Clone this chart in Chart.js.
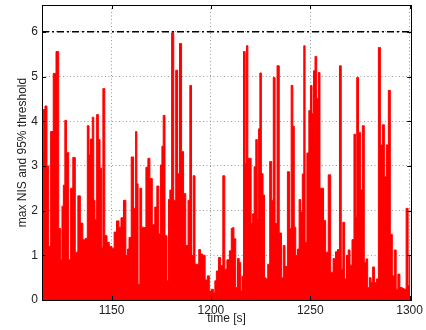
<!DOCTYPE html>
<html>
<head>
<meta charset="utf-8">
<script src="https://cdn.jsdelivr.net/npm/chart.js@4.4.1/dist/chart.umd.min.js"></script>
<style>
  html, body { margin: 0; padding: 0; background: #fff; }
  #wrap { width: 426px; height: 330px; }
</style>
</head>
<body>
<div id="wrap"><canvas id="nisChart" width="426" height="330"></canvas></div>
<script>
// time stamps [s] and max NIS
var times = [
  1115.2, 1116.0, 1117.0, 1118.0, 1118.7, 1120.0, 1121.3, 1122.8, 1124.0, 1124.8,
  1125.3, 1126.2, 1126.8, 1127.8, 1129.0, 1129.8, 1131.2, 1132.3, 1133.8, 1134.8,
  1136.3, 1137.3, 1138.3, 1139.0, 1139.8, 1140.8, 1141.3, 1142.0, 1143.0, 1143.7,
  1144.7, 1145.3, 1146.0, 1147.2, 1148.2, 1149.5, 1150.8, 1151.8, 1153.2, 1154.2,
  1155.3, 1156.7, 1157.7, 1158.3, 1159.3, 1160.5, 1161.7, 1162.5, 1163.0, 1163.7,
  1164.8, 1165.5, 1166.8, 1167.8, 1168.8, 1169.8, 1171.2, 1172.3, 1173.3, 1174.2,
  1175.0, 1175.7, 1176.3, 1177.5, 1178.3, 1179.0, 1179.7, 1180.8, 1181.8, 1182.8,
  1183.7, 1184.7, 1185.8, 1186.7, 1188.0, 1189.0, 1189.8, 1190.7, 1191.5, 1192.5,
  1193.5, 1194.3, 1195.2, 1196.5, 1197.7, 1198.7, 1199.7, 1200.8, 1201.7, 1202.3,
  1203.2, 1204.5, 1205.3, 1206.7, 1207.3, 1208.8, 1209.8, 1210.7, 1211.2, 1212.0,
  1213.0, 1213.8, 1214.7, 1215.3, 1216.0, 1216.8, 1217.7, 1218.2, 1219.0, 1219.8,
  1220.7, 1221.3, 1222.2, 1223.0, 1223.7, 1224.3, 1225.0, 1225.8, 1226.7, 1227.3,
  1228.2, 1229.0, 1230.2, 1231.0, 1231.8, 1232.8, 1233.8, 1235.0, 1236.0, 1236.8,
  1237.8, 1239.2, 1240.0, 1240.8, 1241.7, 1242.2, 1243.2, 1244.0, 1244.8, 1245.5,
  1246.5, 1247.0, 1247.8, 1248.8, 1249.8, 1250.5, 1251.3, 1252.0, 1252.8, 1253.7,
  1254.5, 1255.3, 1256.2, 1257.2, 1258.3, 1259.8, 1260.8, 1262.2, 1263.2, 1264.2,
  1265.2, 1266.0, 1266.8, 1267.8, 1268.7, 1269.5, 1270.5, 1271.5, 1272.5, 1273.0,
  1273.8, 1274.8, 1275.7, 1276.7, 1277.7, 1278.5, 1279.3, 1280.2, 1281.0, 1281.8,
  1282.8, 1283.8, 1284.8, 1285.8, 1286.8, 1287.8, 1288.8, 1289.8, 1290.8, 1291.8,
  1292.8, 1293.7, 1294.5, 1295.7, 1296.8, 1297.7, 1298.8, 1299.7, 1300.3
];
var nis = [
  3.30, 4.26, 4.34, 3.00, 1.20, 3.77, 5.07, 5.56, 1.60, 0.90,
  2.10, 2.57, 4.02, 3.30, 0.90, 2.50, 3.19, 1.07, 2.33, 1.72,
  1.35, 1.38, 3.90, 3.25, 3.60, 4.09, 2.23, 1.80, 4.15, 3.59,
  2.95, 1.18, 4.73, 1.44, 1.29, 1.20, 1.16, 1.52, 1.77, 1.63,
  1.84, 2.23, 1.00, 1.14, 1.40, 3.20, 2.05, 3.77, 2.60, 0.35,
  2.50, 1.63, 1.62, 2.97, 3.17, 2.72, 1.69, 2.08, 2.55, 1.48,
  3.02, 3.44, 4.13, 1.44, 0.43, 2.25, 2.46, 5.98, 2.23, 5.14,
  2.83, 5.74, 3.32, 2.38, 1.22, 2.23, 4.80, 1.00, 2.78, 0.80,
  0.80, 1.13, 1.03, 1.00, 0.45, 0.54, 0.20, 0.24, 0.17, 0.43,
  0.65, 0.95, 0.77, 2.78, 0.69, 0.90, 1.10, 1.60, 1.62, 1.37,
  0.28, 0.93, 0.84, 0.20, 0.53, 5.56, 3.06, 5.69, 3.17, 3.17,
  1.71, 1.93, 2.98, 3.59, 1.82, 3.83, 5.08, 2.83, 2.35, 0.50,
  0.47, 0.80, 3.10, 2.23, 4.98, 1.71, 5.24, 1.50, 0.50, 1.22,
  0.75, 2.87, 1.60, 4.80, 3.89, 1.63, 1.00, 1.14, 2.25, 1.97,
  2.82, 5.69, 1.29, 3.29, 4.24, 4.80, 4.17, 5.13, 5.45, 4.51,
  5.09, 2.50, 2.50, 1.78, 1.07, 2.80, 0.62, 0.93, 1.08, 1.13,
  5.24, 0.69, 1.74, 0.47, 1.00, 1.12, 0.78, 1.35, 3.71, 1.86,
  4.98, 3.75, 2.46, 3.90, 0.84, 0.92, 0.28, 0.50, 0.39, 0.74,
  0.39, 0.47, 5.65, 3.47, 3.92, 2.76, 3.47, 4.69, 1.47, 0.54,
  1.12, 0.24, 0.58, 0.28, 0.26, 0.24, 2.05, 0.32, 1.00
];
var threshold = 6;
var xTicks = [1150, 1200, 1250, 1300];
var yTicks = [0, 1, 2, 3, 4, 5, 6];
var xMin = 1115, xMax = 1300.8;
var yMin = 0, yMax = 6.6;

var fontFam = "'Liberation Sans', Arial, Helvetica, sans-serif";
var textCol = "#222";

var nisPoints = times.map(function(t, i) { return {x: t, y: nis[i]}; });

// MATLAB-style box with inward tick marks
var boxPlugin = {
  id: "boxTicks",
  afterDraw: function(chart) {
    var ctx = chart.ctx;
    var a = chart.chartArea;
    var xs = chart.scales.x, ys = chart.scales.y;
    var len = 4;
    ctx.save();
    ctx.strokeStyle = "#000";
    ctx.lineWidth = 1;
    ctx.beginPath();
    xTicks.forEach(function(v) {
      var px = Math.round(xs.getPixelForValue(v)) + 0.5;
      ctx.moveTo(px, a.bottom); ctx.lineTo(px, a.bottom - len);
      ctx.moveTo(px, a.top); ctx.lineTo(px, a.top + len);
    });
    yTicks.forEach(function(v) {
      var py = Math.round(ys.getPixelForValue(v)) + 0.5;
      ctx.moveTo(a.left, py); ctx.lineTo(a.left + len, py);
      ctx.moveTo(a.right, py); ctx.lineTo(a.right - len, py);
    });
    ctx.stroke();
    ctx.strokeRect(Math.round(a.left) + 0.5, Math.round(a.top) + 0.5,
                   Math.round(a.right - a.left), Math.round(a.bottom - a.top));
    ctx.restore();
  }
};

document.addEventListener("DOMContentLoaded", function() {
  var el = document.getElementById("nisChart");

  new Chart(el, {
    type: "line",
    data: {
      datasets: [
        {
          label: "95% threshold",
          data: [{x: xMin, y: threshold}, {x: xMax, y: threshold}],
          borderColor: "#000",
          borderWidth: 1.6,
          borderDash: [7, 3, 2, 3],
          pointRadius: 0,
          fill: false,
          order: 0
        },
        {
          label: "max NIS",
          data: nisPoints,
          borderColor: "#ff0000",
          backgroundColor: "#ff0000",
          borderWidth: 1,
          pointRadius: 0,
          stepped: "middle",
          fill: "origin",
          order: 1
        }
      ]
    },
    options: {
      responsive: false,
      animation: false,
      devicePixelRatio: 1,
      layout: { padding: { top: 5, right: 13, left: 0, bottom: -2 } },
      plugins: {
        legend: { display: false },
        tooltip: { enabled: false }
      },
      scales: {
        x: {
          type: "linear",
          min: xMin,
          max: xMax,
          afterBuildTicks: function(s) { s.ticks = xTicks.map(function(v) { return {value: v}; }); },
          afterFit: function(s) { s.height = 32; },
          grid: { color: "#9a9a9a", lineWidth: 1, drawTicks: false },
          border: { display: false, dash: [1, 2.5] },
          ticks: {
            padding: 3,
            maxRotation: 0,
            color: textCol,
            font: { family: fontFam, size: 12 },
            callback: function(v) { return v; }
          },
          title: {
            display: true,
            text: "time [s]",
            color: textCol,
            font: { family: fontFam, size: 12 },
            padding: { top: 0, bottom: 6 }
          }
        },
        y: {
          min: yMin,
          max: yMax,
          afterBuildTicks: function(s) { s.ticks = yTicks.map(function(v) { return {value: v}; }); },
          afterFit: function(s) { s.width = 42; s.paddingTop = 0; s.paddingBottom = 0; },
          grid: { color: "#9a9a9a", lineWidth: 1, drawTicks: false },
          border: { display: false, dash: [1, 2.5] },
          ticks: {
            padding: 4,
            color: textCol,
            font: { family: fontFam, size: 12 },
            callback: function(v) { return v; }
          },
          title: {
            display: true,
            text: "max NIS and 95% threshold",
            color: textCol,
            font: { family: fontFam, size: 12 },
            padding: { top: 15, bottom: 0 }
          }
        }
      }
    },
    plugins: [boxPlugin]
  });
});
</script>
</body>
</html>
